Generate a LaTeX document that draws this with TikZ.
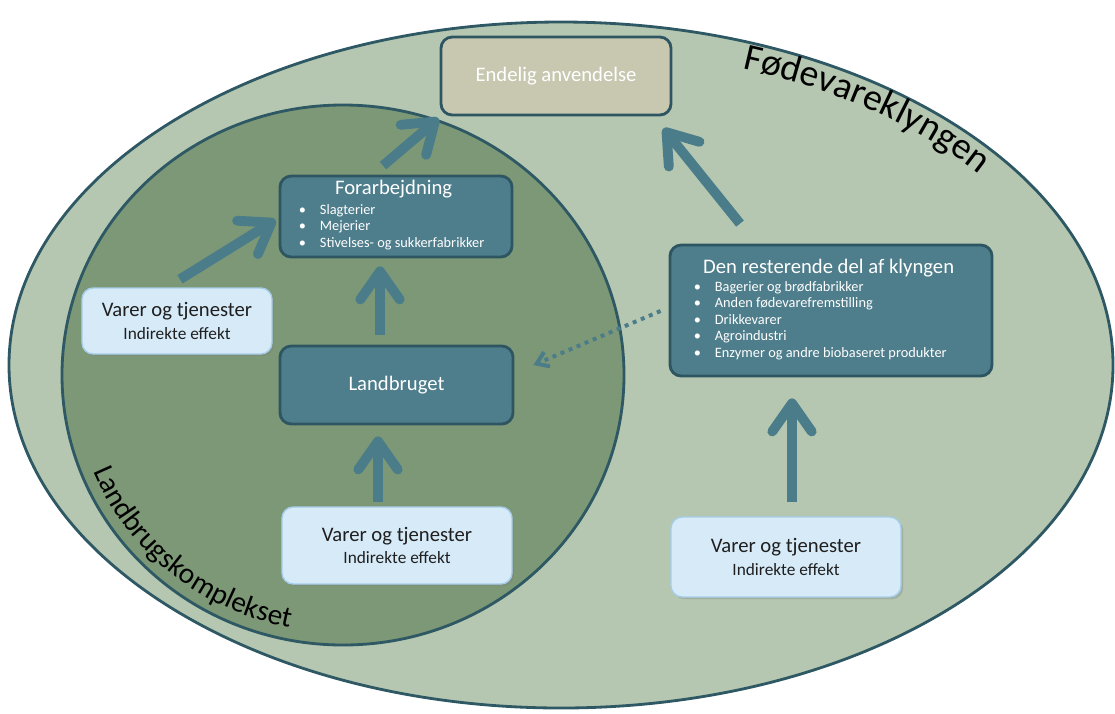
\documentclass[tikz,border=0pt]{standalone}
\usepackage{fontspec}
\setmainfont{Carlito}
\usetikzlibrary{positioning,shapes,arrows.meta,calc,decorations.text,shadows}

\definecolor{outerfill}{RGB}{181,199,176}
\definecolor{innerfill}{RGB}{125,152,118}
\definecolor{ringline}{RGB}{45,88,100}
\definecolor{boxteal}{RGB}{78,125,139}
\definecolor{boxline}{RGB}{46,86,98}
\definecolor{endfill}{RGB}{200,200,177}
\definecolor{varerfill}{RGB}{214,234,248}
\definecolor{varerline}{RGB}{165,205,232}
\definecolor{arrowteal}{RGB}{74,124,138}

\newcommand{\titlesz}{\fontsize{14.7}{17}\selectfont}
\newcommand{\subsz}{\fontsize{12.3}{15}\selectfont}
\newcommand{\bulsz}{\fontsize{10.2}{11.8}\selectfont}
\newcommand{\fodsz}{\fontsize{26.8}{30}\selectfont}
\newcommand{\lbsz}{\fontsize{20.8}{24}\selectfont}
\newcommand{\itm}[1]{\makebox[15pt][l]{\textbullet}#1}

\begin{document}
\begin{tikzpicture}
            [x=0.025cm,y=-0.025cm,
             every node/.style={rounded corners=8pt, align=center, inner sep=2pt},
             tealbox/.style={draw=boxline, fill=boxteal, line width=2pt, text=white, font=\titlesz},
             endbox/.style={draw=boxline, fill=endfill, line width=2pt, text=white, font=\titlesz},
             varerbox/.style={draw=varerline, fill=varerfill, line width=1pt, text=black!88, font=\fontsize{14.7}{16}\selectfont,
                              drop shadow={shadow xshift=1.5pt, shadow yshift=-1.5pt, opacity=0.35}},
             bigarrow/.style={draw=arrowteal, line width=7pt, -{Straight Barb[length=20pt,width=28pt,round]}},
             dotarrow/.style={draw=arrowteal, line width=2.8pt, dash pattern=on 2.8pt off 3.4pt, -{Straight Barb[length=8pt,width=11pt]}}]

            \useasboundingbox (0,0) rectangle (1115,713);

            % the two clusters
            \draw[draw=ringline, fill=outerfill, line width=2pt] (561,365) ellipse [x radius=552, y radius=343];
            \draw[draw=ringline, fill=innerfill, line width=2pt] (343,375) ellipse [x radius=281, y radius=270];

            \path[decorate, decoration={text along path, text={|\fodsz|Fødevareklyngen}}]
              (561,365) ++(-69.8:525 and 316) arc[start angle=-69.8, end angle=-20, x radius=525, y radius=316];
            \path[decorate, decoration={text along path, text={|\lbsz|Landbrugskomplekset}}]
              (343,375) ++(158:269 and 258) arc[start angle=158, end angle=85, x radius=269, y radius=258];

            \node[endbox, minimum width=5.75cm, minimum height=1.95cm] (end) at (556,76) {Endelig anvendelse};

            \node[tealbox, minimum width=5.8cm, minimum height=2.025cm] (forarb) at (396,216.5)
            {
              {\bulsz\begin{tabular}{@{}l@{}}
                \multicolumn{1}{@{}c@{}}{\titlesz Forarbejdning}\\[2pt]
                \itm{Slagterier}\\
                \itm{Mejerier}\\
                \itm{Stivelses- og sukkerfabrikker}\hspace{3pt}
              \end{tabular}}
            };

            \node[tealbox, minimum width=5.825cm, minimum height=1.95cm] (landbrug) at (396.5,385) {Landbruget};

            \node[tealbox, minimum width=8.05cm, minimum height=3.275cm] (rest) at (831,310.5)
            {
              {\bulsz\begin{tabular}{@{}l@{}}
                \multicolumn{1}{@{}c@{}}{\titlesz Den resterende del af klyngen}\\[1pt]
                \itm{Bagerier og brødfabrikker}\\
                \itm{Anden fødevarefremstilling}\\
                \itm{Drikkevarer}\\
                \itm{Agroindustri}\\
                \itm{Enzymer og andre biobaseret produkter}\hspace{12pt}
              \end{tabular}}
            };

            \node[varerbox, minimum width=4.75cm, minimum height=1.65cm] (varerL) at (177,321)
              {Varer og tjenester\\{\subsz Indirekte effekt}};
            \node[varerbox, minimum width=5.75cm, minimum height=1.925cm] (varerM) at (397,545.5)
              {Varer og tjenester\\{\subsz Indirekte effekt}};
            \node[varerbox, minimum width=5.75cm, minimum height=2cm] (varerR) at (786,557)
              {Varer og tjenester\\{\subsz Indirekte effekt}};

            \path ($(forarb.north)+(-13,-9)$) edge[bigarrow] ($(end.south west)+(-1,2)$)
              ($(varerL.north)+(3,-8)$) edge[bigarrow] ($(forarb.west)+(-3,3.5)$)
              ($(landbrug.north)+(-16.5,-10)$) edge[bigarrow] ($(forarb.south)+(-16,8)$)
              ($(varerM.north)+(-19,-4)$) edge[bigarrow] ($(landbrug.south)+(-18.5,11)$)
              ($(rest.north)+(-91,-20)$) edge[bigarrow] ($(end.south east)+(-9,12)$)
              ($(varerR.north)+(6,-14)$) edge[bigarrow] ($(rest.south)+(-39,21)$)
              ($(rest.west)+(-8,0.5)$) edge[dotarrow] ($(landbrug.east)+(19,-20)$);
        \end{tikzpicture}
\end{document}
